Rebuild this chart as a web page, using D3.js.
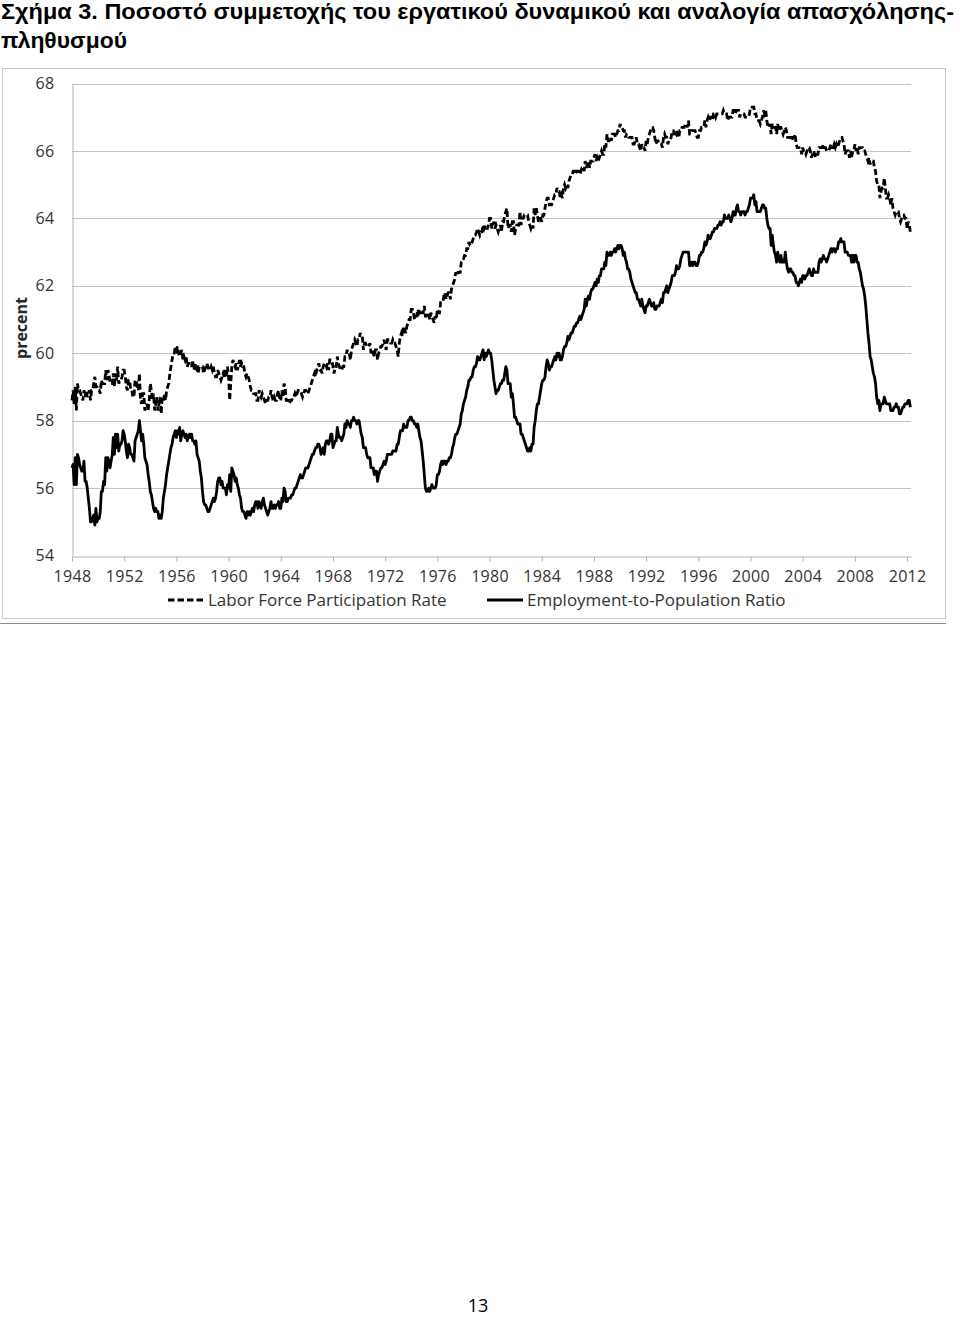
<!DOCTYPE html>
<html><head><meta charset="utf-8">
<script src="https://cdn.jsdelivr.net/npm/d3@7/dist/d3.min.js"></script>
<style>body{margin:0;background:#fff}svg{display:block}</style>
</head><body>
<svg id="c" width="960" height="1317"></svg>
<script>
const titleLines = ["Σχήμα 3. Ποσοστό συμμετοχής του εργατικού δυναμικού και αναλογία απασχόλησης-", "πληθυσμού"];
const yAxisTitle = "precent";
const pageNumber = "13";
const seriesNames = ["Labor Force Participation Rate", "Employment-to-Population Ratio"];
const startYear = 1948;
const yTicks = [54, 56, 58, 60, 62, 64, 66, 68];
const xTickYears = [1948, 1952, 1956, 1960, 1964, 1968, 1972, 1976, 1980, 1984, 1988, 1992, 1996, 2000, 2004, 2008, 2012];

// Monthly values, Jan 1948 - Apr 2012 (one row per year)
const laborForceRate = [
58.6,58.9,58.5,59.0,58.3,59.1,58.9,58.9,58.8,58.7,58.6,58.9,
58.7,58.9,58.7,58.8,58.9,58.6,58.9,58.9,59.1,59.3,59.0,59.0,
58.9,58.9,58.8,59.2,59.1,59.1,59.1,59.5,59.2,59.5,59.4,59.1,
59.1,59.1,59.4,59.0,59.4,59.2,59.6,59.1,59.2,59.2,59.3,59.5,
59.5,59.3,59.0,58.9,59.2,59.2,58.9,58.9,58.7,58.7,59.2,59.2,
59.0,58.9,59.4,58.6,58.5,58.8,58.8,58.3,58.4,58.5,58.3,58.6,
59.1,58.9,58.6,58.8,58.3,58.5,58.7,58.3,58.5,58.7,58.2,58.7,
58.6,58.8,58.6,58.9,59.0,59.1,59.4,59.6,59.8,60.0,60.0,60.2,
60.1,60.2,60.0,59.9,60.0,60.1,59.8,59.9,59.8,59.9,59.6,59.7,
59.7,59.7,59.6,59.8,59.5,59.6,59.7,59.5,59.4,59.6,59.6,59.6,
59.6,59.4,59.5,59.6,59.7,59.6,59.5,59.5,59.6,59.5,59.6,59.4,
59.3,59.3,59.5,59.4,59.3,59.2,59.3,59.4,59.3,59.5,59.3,59.6,
59.3,58.6,59.1,59.6,59.8,59.7,59.6,59.7,59.5,59.6,59.8,59.6,
59.7,59.6,59.6,59.4,59.3,59.4,59.3,59.2,59.0,58.9,58.9,58.8,
58.8,58.8,58.6,58.6,58.9,58.8,58.7,58.8,58.7,58.6,58.5,58.6,
58.6,58.7,58.7,58.9,58.7,58.6,58.7,58.6,58.6,58.8,58.9,58.6,
58.6,58.9,58.7,59.1,59.0,58.6,58.6,58.6,58.5,58.6,58.6,58.7,
58.7,58.8,58.7,58.8,58.9,58.9,58.9,58.8,58.7,58.8,58.9,58.9,
58.8,58.8,58.9,59.0,59.1,59.2,59.3,59.4,59.3,59.5,59.6,59.7,
59.5,59.5,59.4,59.6,59.7,59.7,59.6,59.7,59.5,59.8,59.8,59.8,
59.6,59.4,59.6,59.6,59.9,59.7,59.6,59.5,59.5,59.6,59.6,59.9,
59.9,60.1,60.0,60.0,59.8,60.1,60.2,60.3,60.4,60.3,60.2,60.4,
60.4,60.6,60.5,60.5,60.1,60.3,60.3,60.2,60.2,60.2,60.3,60.0,
60.1,60.0,59.9,60.1,60.1,59.8,60.0,60.1,60.2,60.2,60.3,60.4,
60.2,60.1,60.4,60.4,60.4,60.3,60.3,60.4,60.3,60.3,60.2,60.1,
59.9,60.3,60.5,60.6,60.5,60.8,60.7,60.6,60.8,60.9,61.0,61.0,
61.3,61.3,61.2,61.0,61.1,61.1,61.3,61.2,61.3,61.2,61.2,61.2,
61.4,61.1,61.1,61.2,61.2,61.0,61.2,61.1,61.0,60.9,61.1,61.0,
61.3,61.2,61.2,61.5,61.5,61.5,61.7,61.8,61.6,61.7,61.8,61.8,
61.6,61.9,62.0,62.1,62.2,62.4,62.3,62.4,62.4,62.4,62.7,62.8,
62.8,62.9,62.9,63.1,63.1,63.3,63.2,63.2,63.3,63.4,63.5,63.5,
63.6,63.7,63.6,63.5,63.6,63.6,63.8,63.7,63.8,63.7,63.7,63.8,
64.0,64.0,63.7,63.8,63.9,63.7,63.8,63.7,63.6,63.7,63.8,63.6,
63.9,63.9,64.1,64.2,64.3,63.7,63.8,63.8,63.6,63.9,63.9,63.5,
63.7,63.8,63.8,63.8,64.2,63.8,64.0,64.0,64.1,64.1,64.1,64.1,
63.9,63.8,63.7,63.8,63.7,64.3,64.1,64.3,64.1,63.9,64.0,64.0,
63.9,64.1,64.1,64.3,64.5,64.6,64.6,64.4,64.4,64.4,64.5,64.6,
64.7,64.7,64.9,64.8,64.8,64.6,64.7,64.6,64.9,65.0,64.9,65.0,
64.9,65.1,65.2,65.3,65.3,65.4,65.4,65.3,65.4,65.4,65.4,65.3,
65.4,65.5,65.5,65.4,65.7,65.5,65.6,65.7,65.5,65.7,65.7,65.7,
65.8,65.9,65.7,65.8,65.7,65.8,65.9,66.0,65.9,65.9,66.2,66.1,
66.5,66.3,66.3,66.4,66.3,66.5,66.5,66.5,66.4,66.5,66.6,66.6,
66.8,66.7,66.7,66.6,66.6,66.4,66.5,66.5,66.4,66.4,66.4,66.4,
66.2,66.2,66.3,66.4,66.2,66.2,66.1,66.0,66.2,66.1,66.1,66.0,
66.3,66.2,66.4,66.5,66.6,66.7,66.7,66.6,66.4,66.2,66.3,66.3,
66.2,66.2,66.2,66.1,66.4,66.5,66.4,66.4,66.2,66.3,66.3,66.4,
66.6,66.6,66.5,66.5,66.6,66.4,66.4,66.6,66.6,66.7,66.7,66.7,
66.8,66.8,66.7,66.9,66.5,66.5,66.6,66.6,66.6,66.6,66.5,66.4,
66.4,66.6,66.6,66.7,66.7,66.7,66.9,66.7,66.9,67.0,66.9,67.0,
67.0,66.9,67.1,67.1,67.0,67.1,67.1,67.1,67.1,67.1,67.1,67.2,
67.1,67.1,67.1,66.9,67.0,67.0,67.0,67.0,67.2,67.2,67.1,67.2,
67.2,67.2,67.0,67.1,67.1,67.1,67.1,67.0,67.0,67.0,67.0,67.1,
67.3,67.3,67.3,67.3,67.1,67.1,66.9,66.9,66.9,66.8,66.9,67.0,
67.2,67.1,67.2,66.9,66.7,66.7,66.8,66.5,66.8,66.7,66.7,66.7,
66.5,66.8,66.6,66.7,66.7,66.6,66.5,66.6,66.7,66.6,66.4,66.4,
66.4,66.4,66.3,66.4,66.4,66.5,66.2,66.1,66.1,66.1,66.1,65.9,
66.1,66.0,66.0,65.9,66.0,66.1,66.1,66.0,65.8,65.9,66.0,65.9,
65.8,65.9,65.9,66.1,66.1,66.1,66.1,66.2,66.1,66.1,66.0,66.0,
66.0,66.1,66.2,66.1,66.1,66.2,66.1,66.2,66.1,66.2,66.3,66.4,
66.4,66.3,66.2,65.9,66.0,66.0,66.0,65.8,66.0,65.8,66.0,66.0,
66.2,66.0,66.1,65.9,66.1,66.1,66.1,66.1,66.0,66.0,65.9,65.8,
65.7,65.8,65.6,65.7,65.7,65.7,65.5,65.4,65.1,65.0,65.0,64.6,
64.8,64.9,64.9,65.2,64.9,64.6,64.6,64.7,64.6,64.4,64.6,64.3,
64.2,64.1,64.2,64.2,64.2,64.0,63.9,64.0,64.1,64.1,64.0,64.0,
63.7,63.9,63.8,63.6
];

const employmentRatio = [
56.6,56.7,56.1,56.9,56.1,57.0,56.9,56.7,56.6,56.5,56.5,56.8,
56.2,56.2,56.0,55.7,55.4,55.0,55.0,55.1,55.2,54.9,55.4,55.0,
55.1,55.1,55.3,55.9,55.9,56.2,56.1,56.9,56.5,56.9,56.8,56.6,
56.8,57.0,57.5,57.0,57.6,57.2,57.6,57.1,57.3,57.3,57.4,57.7,
57.6,57.4,57.1,56.9,57.3,57.2,57.0,57.0,56.9,56.8,57.4,57.5,
57.6,57.7,58.0,57.7,57.4,57.6,57.3,56.9,56.8,56.7,56.4,56.2,
55.9,55.8,55.6,55.4,55.3,55.4,55.3,55.3,55.1,55.2,55.1,55.3,
55.7,55.9,56.1,56.4,56.6,56.8,57.0,57.2,57.3,57.5,57.6,57.7,
57.5,57.7,57.6,57.8,57.4,57.6,57.7,57.6,57.5,57.6,57.4,57.5,
57.6,57.5,57.6,57.4,57.4,57.3,57.4,57.0,56.9,56.8,56.5,56.3,
55.9,55.6,55.5,55.5,55.4,55.3,55.3,55.4,55.5,55.6,55.7,55.6,
55.7,55.9,56.2,56.3,56.3,56.1,56.2,56.0,56.0,56.0,55.8,56.1,
56.0,56.4,55.9,56.6,56.5,56.4,56.2,56.3,56.1,56.0,55.8,55.7,
55.4,55.3,55.3,55.2,55.1,55.3,55.2,55.3,55.2,55.3,55.4,55.3,
55.5,55.6,55.6,55.4,55.6,55.5,55.4,55.6,55.7,55.5,55.4,55.3,
55.2,55.3,55.4,55.6,55.4,55.4,55.5,55.4,55.5,55.5,55.6,55.4,
55.4,55.7,55.6,56.0,55.9,55.6,55.6,55.7,55.7,55.7,55.8,55.8,
55.9,56.0,56.0,56.1,56.2,56.3,56.4,56.3,56.3,56.4,56.5,56.6,
56.6,56.6,56.7,56.8,56.9,57.0,57.0,57.1,57.2,57.2,57.3,57.3,
57.2,57.0,57.1,57.2,57.0,57.3,57.4,57.4,57.3,57.4,57.6,57.6,
57.2,57.3,57.4,57.4,57.8,57.6,57.5,57.5,57.4,57.5,57.6,57.9,
57.8,58.0,57.9,57.9,57.8,58.0,58.0,58.1,58.0,58.0,57.9,58.0,
58.0,57.8,57.6,57.5,57.2,57.2,57.2,57.0,56.9,56.9,56.9,56.6,
56.6,56.6,56.4,56.5,56.5,56.2,56.4,56.5,56.6,56.6,56.7,56.8,
56.7,56.8,57.0,57.0,57.0,57.0,57.0,57.1,57.1,57.1,57.1,57.3,
57.3,57.5,57.7,57.7,57.7,57.9,57.8,57.8,57.8,58.0,58.0,58.1,
58.1,58.0,58.0,57.9,57.9,57.8,57.9,57.7,57.5,57.4,57.1,56.8,
56.4,56.0,55.9,55.9,56.0,55.9,56.0,56.1,56.0,56.0,56.0,56.1,
56.4,56.4,56.5,56.7,56.8,56.7,56.8,56.8,56.7,56.8,56.8,56.9,
56.9,57.0,57.2,57.3,57.5,57.6,57.6,57.7,57.8,57.9,58.2,58.3,
58.5,58.6,58.7,58.9,59.0,59.2,59.2,59.3,59.3,59.5,59.6,59.6,
59.7,59.9,59.8,59.8,59.9,60.0,60.1,59.8,60.0,59.9,60.0,60.1,
60.0,60.0,59.8,59.5,59.2,59.0,58.8,58.9,58.9,59.0,59.1,59.1,
59.2,59.2,59.4,59.6,59.5,59.1,59.1,59.1,58.7,58.8,58.5,58.1,
58.1,58.0,57.9,57.9,57.9,57.6,57.6,57.5,57.4,57.3,57.2,57.1,
57.1,57.2,57.1,57.3,57.3,57.8,58.0,58.3,58.5,58.5,58.7,58.9,
59.1,59.2,59.2,59.3,59.6,59.8,59.7,59.5,59.6,59.6,59.7,59.8,
59.9,59.8,60.0,59.9,60.0,59.8,59.8,59.9,60.1,60.2,60.2,60.3,
60.5,60.4,60.5,60.6,60.6,60.7,60.8,60.8,60.9,60.9,61.0,61.1,
61.0,61.1,61.2,61.3,61.6,61.4,61.6,61.7,61.6,61.8,61.9,61.9,
62.0,62.1,62.0,62.2,62.1,62.3,62.3,62.5,62.5,62.5,62.7,62.6,
63.0,62.9,62.9,63.0,62.9,63.0,63.0,63.1,63.0,63.1,63.2,63.1,
63.2,63.2,63.1,62.9,63.0,62.8,62.7,62.5,62.5,62.4,62.2,62.1,
62.0,61.9,61.8,61.8,61.6,61.6,61.5,61.4,61.6,61.4,61.3,61.2,
61.4,61.4,61.5,61.6,61.5,61.4,61.4,61.5,61.3,61.3,61.4,61.4,
61.4,61.5,61.6,61.5,61.8,61.8,61.9,62.0,61.8,61.9,62.0,62.1,
62.3,62.3,62.3,62.4,62.6,62.5,62.5,62.6,62.8,62.9,63.0,63.0,
63.0,63.0,63.0,63.0,62.6,62.6,62.7,62.6,62.7,62.7,62.6,62.6,
62.7,62.9,62.9,63.0,63.0,63.1,63.3,63.2,63.3,63.5,63.4,63.4,
63.5,63.6,63.6,63.7,63.7,63.7,63.8,63.8,63.9,63.8,63.9,63.9,
64.1,64.0,64.0,64.0,64.1,64.0,63.9,64.0,64.2,64.1,64.1,64.3,
64.4,64.2,64.2,64.1,64.2,64.2,64.2,64.1,64.2,64.2,64.3,64.4,
64.6,64.6,64.6,64.7,64.4,64.5,64.2,64.2,64.2,64.2,64.3,64.4,
64.4,64.3,64.3,64.0,63.8,63.7,63.7,63.2,63.5,63.2,63.0,62.9,
62.7,63.0,62.8,62.7,62.9,62.7,62.7,62.7,63.0,62.7,62.5,62.4,
62.5,62.5,62.4,62.4,62.3,62.3,62.1,62.1,62.0,62.1,62.2,62.1,
62.3,62.3,62.2,62.3,62.3,62.4,62.5,62.4,62.3,62.3,62.5,62.4,
62.4,62.4,62.4,62.7,62.8,62.7,62.8,62.9,62.8,62.8,62.7,62.8,
62.9,63.0,63.1,63.0,63.1,63.1,63.0,63.1,63.1,63.3,63.3,63.4,
63.3,63.3,63.3,63.0,63.0,63.0,62.9,62.9,62.9,62.7,62.9,62.7,
62.9,62.9,62.7,62.7,62.5,62.4,62.2,62.0,61.9,61.7,61.4,61.0,
60.6,60.3,59.9,59.8,59.6,59.4,59.3,59.1,58.7,58.5,58.6,58.3,
58.5,58.5,58.5,58.7,58.6,58.5,58.5,58.5,58.5,58.3,58.3,58.3,
58.4,58.4,58.5,58.4,58.4,58.2,58.2,58.3,58.4,58.4,58.5,58.5,
58.5,58.6,58.6,58.4
];

const svg = d3.select("#c");
const txt = "#333";

// Title
const titleWidths = [953, 126];
svg.append("g").selectAll("text").data(titleLines).join("text")
  .attr("x", 1).attr("y", (d, i) => 19 + i * 29)
  .attr("font-family", "Liberation Sans, Arial, sans-serif")
  .attr("font-size", 22).attr("font-weight", "bold").attr("fill", "#000")
  .attr("textLength", (d, i) => titleWidths[i]).attr("lengthAdjust", "spacingAndGlyphs")
  .text(d => d);

// Chart frame
svg.append("rect").attr("x", 2.5).attr("y", 68.5).attr("width", 943).attr("height", 550)
  .attr("fill", "none").attr("stroke", "#c8c8c8");
svg.append("line").attr("x1", 0).attr("x2", 946).attr("y1", 623.5).attr("y2", 623.5)
  .attr("stroke", "#8c8c8c");

const x = d3.scaleLinear().domain([1948, 2012.3]).range([72, 911]);
const y = d3.scaleLinear().domain([54, 68]).range([555.5, 83.5]);

// gridlines
svg.append("g").selectAll("line").data(yTicks.filter(v => v !== 54)).join("line")
  .attr("x1", 72).attr("x2", 911).attr("y1", d => Math.round(y(d)) + 0.5).attr("y2", d => Math.round(y(d)) + 0.5)
  .attr("stroke", "#c4c4c4");

// axes
const xAxis = d3.axisBottom(x).tickValues(xTickYears).tickFormat(d3.format("d")).tickSize(5).tickSizeOuter(0).tickPadding(6);
const gx = svg.append("g").attr("transform", `translate(0,${Math.round(y(54)) + 0.5})`).call(xAxis);
gx.select(".domain").attr("stroke", "#b4b4b4");
gx.selectAll(".tick line").attr("stroke", "#b4b4b4");
gx.selectAll("text").attr("font-family", "Open Sans, sans-serif").attr("font-size", 16)
  .attr("fill", txt).attr("letter-spacing", 0.3).attr("dy", "0.75em").attr("y", 13);

const yAxis = d3.axisLeft(y).tickValues(yTicks).tickSize(0).tickPadding(18);
const gy = svg.append("g").attr("transform", "translate(72.5,0)").call(yAxis);
gy.select(".domain").attr("stroke", "#b4b4b4");
gy.selectAll("text").attr("font-family", "Open Sans, sans-serif").attr("font-size", 16)
  .attr("fill", txt).attr("letter-spacing", 0.3);

// y axis title
svg.append("text").attr("transform", "translate(27,328) rotate(-90)")
  .attr("text-anchor", "middle").attr("font-family", "Open Sans, sans-serif")
  .attr("font-weight", "bold").attr("font-size", 16).attr("fill", "#262626").text(yAxisTitle);

// series
const line = d3.line().x((d, i) => x(startYear + i / 12)).y(d => y(d));
svg.append("path").datum(laborForceRate).attr("d", line).attr("fill", "none")
  .attr("stroke", "#000").attr("stroke-width", 2.8).attr("stroke-dasharray", "6,3");
svg.append("path").datum(employmentRatio).attr("d", line).attr("fill", "none")
  .attr("stroke", "#000").attr("stroke-width", 2.8).attr("stroke-linejoin", "round");

// legend
const legend = [
  {name: seriesNames[0], x1: 168, dash: "6.5,3"},
  {name: seriesNames[1], x1: 487, dash: null}
];
const lg = svg.append("g").selectAll("g").data(legend).join("g");
lg.append("line").attr("x1", d => d.x1).attr("x2", d => d.x1 + 36).attr("y1", 600).attr("y2", 600)
  .attr("stroke", "#000").attr("stroke-width", 2.8).attr("stroke-dasharray", d => d.dash);
lg.append("text").attr("x", d => d.x1 + 40).attr("y", 606)
  .attr("font-family", "Open Sans, sans-serif").attr("font-size", 17).attr("fill", txt).text(d => d.name);

// page number
svg.append("text").attr("x", 478).attr("y", 1312).attr("text-anchor", "middle")
  .attr("font-family", "Open Sans, sans-serif").attr("font-size", 18).attr("fill", "#000").text(pageNumber);
</script>
</body></html>
